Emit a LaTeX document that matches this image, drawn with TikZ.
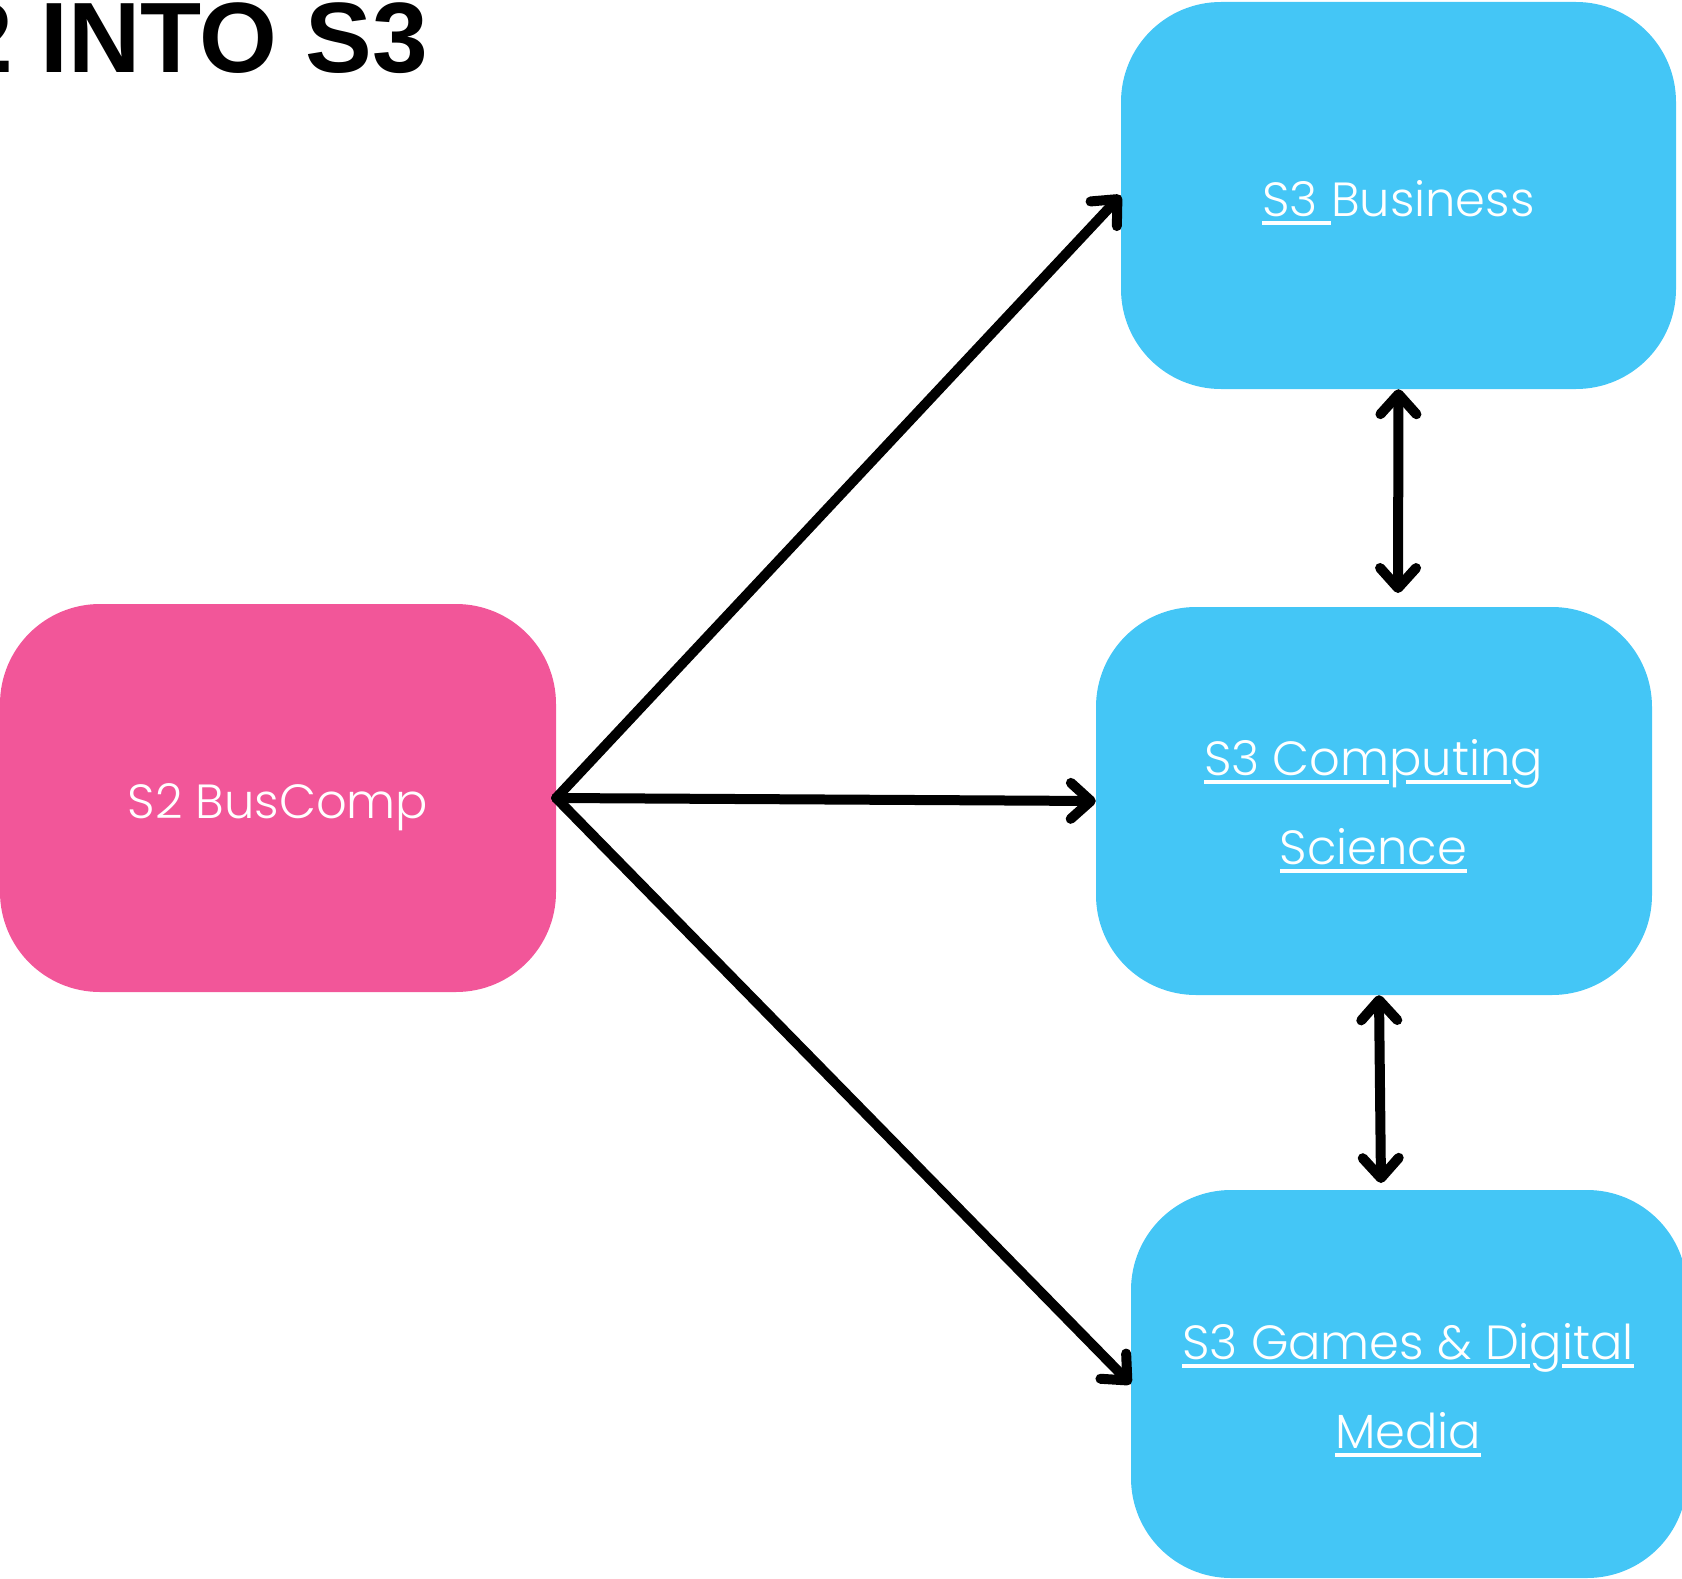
\documentclass[tikz,border=0pt]{standalone}
\usepackage{fontspec}
\usetikzlibrary{arrows.meta}
\IfFontExistsTF{Poppins Light}{\newfontfamily\bodyfont{Poppins Light}}{\newfontfamily\bodyfont{Poppins}}
\newfontfamily\titlefont{Liberation Sans}
\definecolor{boxblue}{RGB}{68,198,246}
\definecolor{boxpink}{RGB}{242,86,153}
\newlength\tmpw
\newcommand{\ulw}[1]{\setbox0\hbox{#1}\rlap{\rule[-8.5pt]{\wd0}{4pt}}\box0}
\newcommand{\ulp}[1]{\setbox0\hbox{#1}\rlap{\hspace*{0.5\wd0}\rule[-8.5pt]{0.5\wd0}{4pt}}\box0}
\begin{document}
\settowidth\tmpw{\bodyfont\fontsize{10pt}{12pt}\selectfont S3 Computing}%
\pgfmathsetmacro\fs{10*339/\tmpw}%
\begin{tikzpicture}[x=1pt,y=-1pt,
  card/.style={rounded corners=100pt, minimum width=556pt, minimum height=388pt, inner sep=0pt, draw=none},
  lbl/.style={text=white, inner sep=0pt, font=\bodyfont\fontsize{\fs pt}{\fs pt}\selectfont},
  conn/.style={line width=10pt, line cap=round, line join=round, -{Straight Barb[length=20pt,width=36pt,round]}},
  dconn/.style={line width=10pt, line cap=round, line join=round, {Straight Barb[length=20pt,width=36pt,round]}-{Straight Barb[length=20pt,width=36pt,round]}}]
\useasboundingbox (0,0) rectangle (1682,1579);
\clip (0,0) rectangle (1682,1579);
% title
\node[anchor=base east, inner sep=0pt, font=\titlefont\bfseries\fontsize{100pt}{100pt}\selectfont] (title) at (428,73) {S2 INTO S3};
% boxes
\node[card, fill=boxpink] (s2) at (278,798) {};
\node[card, fill=boxblue, minimum width=555pt, minimum height=387pt] (bus) at (1398.5,195.5) {};
\node[card, fill=boxblue] (comp) at (1374,801) {};
\node[card, fill=boxblue] (games) at (1409,1384) {};
% labels
\node[lbl, anchor=base] (t1) at (278,818) {S2 BusComp};
\node[lbl, anchor=base] (t2) at (1398.5,216) {\ulw{S3\ }Business};
\node[lbl, anchor=base] (t3a) at (1373.5,775) {\ulw{S3 Com}\ulp{p}\ulw{utin}g};
\node[lbl, anchor=base] (t3b) at (1373.5,864) {\ulw{Science}};
\node[lbl, anchor=base] (t4a) at (1408,1359) {\ulw{S3 Games \& Di}g\ulw{ital}};
\node[lbl, anchor=base] (t4b) at (1408,1448) {\ulw{Media}};
% connectors
\draw[conn] (s2.east) -- (bus.west);
\draw[conn] (s2.east) -- (comp.west);
\draw[conn] (s2.east) -- (games.west);
\coordinate (bt) at (1398,593);
\draw[dconn] (bus.south) -- (bt);
\coordinate (gt) at (1381,1183);
\draw[dconn] ([xshift=5pt]comp.south) -- (gt);
\end{tikzpicture}
\end{document}
